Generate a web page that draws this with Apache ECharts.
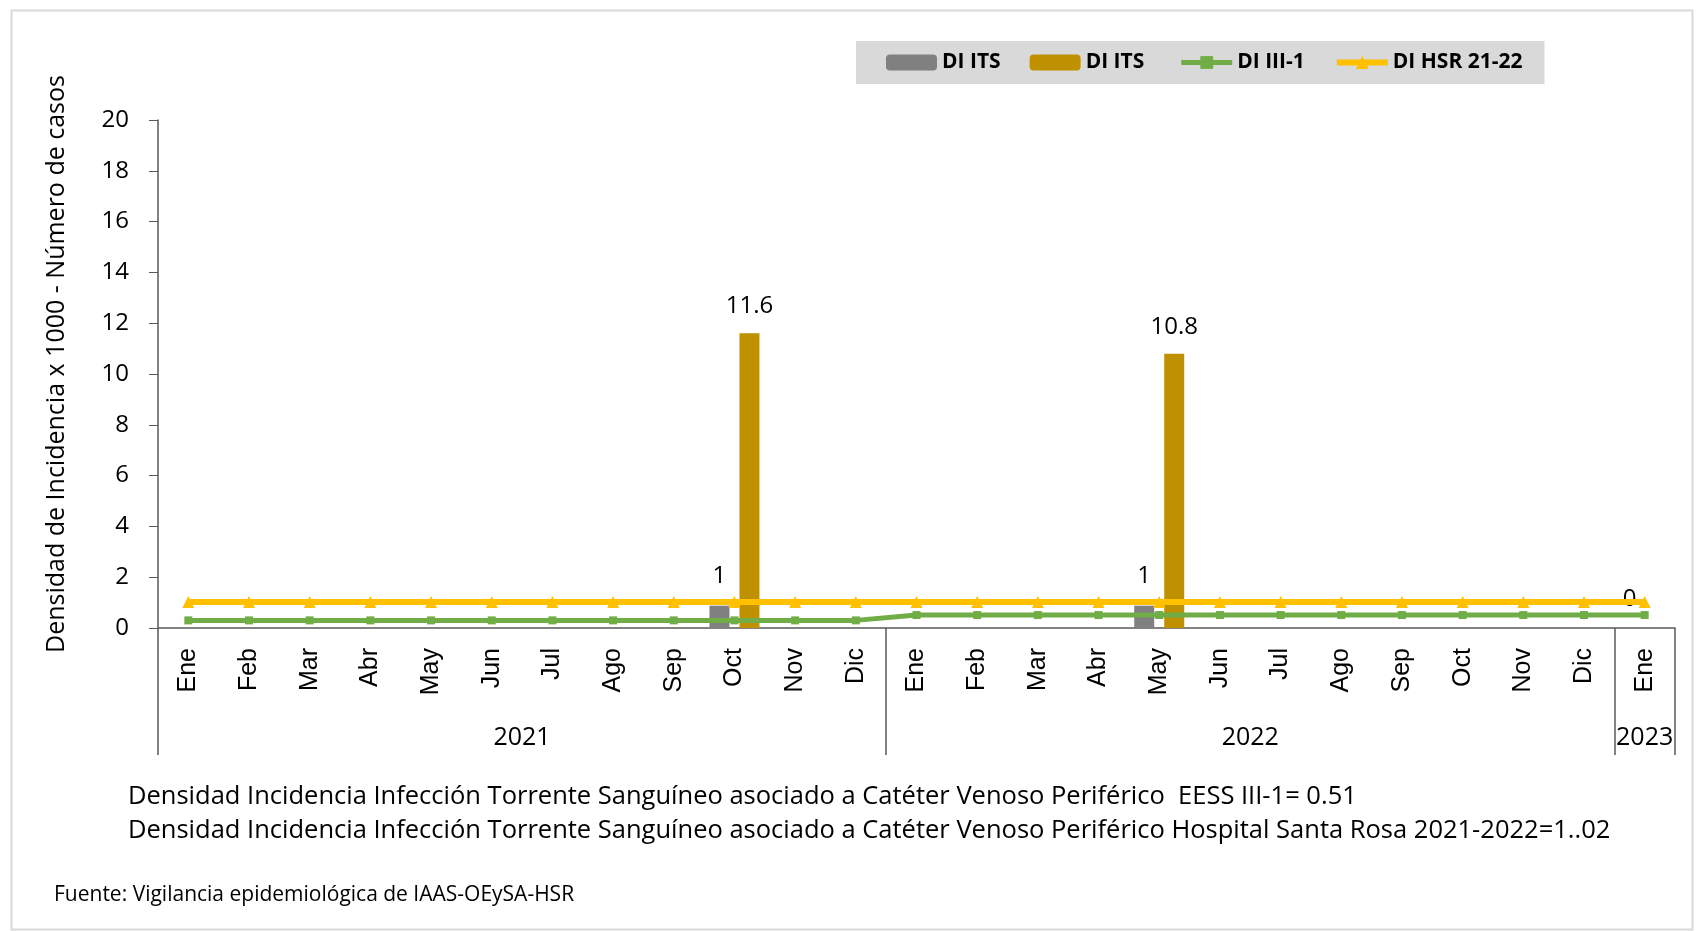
<!DOCTYPE html>
<html>
<head>
<meta charset="utf-8">
<script src="https://cdn.jsdelivr.net/npm/echarts@6/dist/echarts.min.js"></script>
<style>
  html, body { margin: 0; padding: 0; background: #fff; }
  #main { width: 1697px; height: 931px; }
</style>
</head>
<body>
<div id="main"></div>
<script>
var meses = ['Ene','Feb','Mar','Abr','May','Jun','Jul','Ago','Sep','Oct','Nov','Dic',
             'Ene','Feb','Mar','Abr','May','Jun','Jul','Ago','Sep','Oct','Nov','Dic',
             'Ene'];
var anios = ['2021', '2022', '2023'];
var aniosCentro = [6, 18, 24.5];
var aniosLimites = [0, 12, 24, 25];

// DI ITS (gris) - numero de casos
var itsCasos = [null,null,null,null,null,null,null,null,null,0.88,null,null,
                null,null,null,null,0.88,null,null,null,null,null,null,null,
                0];
// DI ITS (dorado) - densidad
var itsDensidad = [null,null,null,null,null,null,null,null,null,11.6,null,null,
                   null,null,null,null,10.8,null,null,null,null,null,null,null,
                   null];
var diIII1 = [0.3,0.3,0.3,0.3,0.3,0.3,0.3,0.3,0.3,0.3,0.3,0.3,
              0.51,0.51,0.51,0.51,0.51,0.51,0.51,0.51,0.51,0.51,0.51,0.51,
              0.51];
var diHSR = [1.02,1.02,1.02,1.02,1.02,1.02,1.02,1.02,1.02,1.02,1.02,1.02,
             1.02,1.02,1.02,1.02,1.02,1.02,1.02,1.02,1.02,1.02,1.02,1.02,
             1.02];

var fuente = '"Open Sans", sans-serif';
var myChart = echarts.init(document.getElementById('main'));

var option = {
  animation: false,
  textStyle: { fontFamily: fuente },
  legend: {
    left: 856,
    top: 41,
    padding: [11, 22, 11, 30],
    backgroundColor: '#d9d9d9',
    itemWidth: 51,
    itemHeight: 16,
    itemGap: 29,
    textStyle: { fontSize: 21, fontWeight: 'bold', color: '#000', fontFamily: fuente },
    data: [
      { name: 'DI ITS' },
      { name: 'DI ITS ' },
      { name: 'DI III-1', lineStyle: { width: 5 } },
      { name: 'DI HSR 21-22', lineStyle: { width: 6 } }
    ]
  },
  grid: { left: 158, right: 22, top: 120, bottom: 303 },
  xAxis: [{
    type: 'category',
    data: meses,
    axisLine: { lineStyle: { color: '#595959', width: 1.5 } },
    axisTick: { show: false },
    axisLabel: {
      rotate: 90, margin: 20, fontSize: 25, color: '#000',
      fontFamily: '"Liberation Sans", Arial, sans-serif', interval: 0
    }
  }, {
    type: 'value',
    min: 0,
    max: 25,
    position: 'bottom',
    offset: 127,
    axisLine: { show: false },
    splitLine: { show: false },
    axisTick: {
      show: true, inside: true, length: 127,
      customValues: aniosLimites,
      lineStyle: { color: '#595959', width: 1.5 }
    },
    axisLabel: {
      inside: true, margin: 5, fontSize: 25, color: '#000',
      customValues: aniosCentro,
      formatter: function (v) { return anios[aniosCentro.indexOf(v)]; }
    }
  }],
  yAxis: {
    type: 'value',
    min: 0,
    max: 20,
    interval: 2,
    name: 'Densidad de Incidencia x 1000 - Número de casos',
    nameLocation: 'middle',
    nameGap: 89,
    nameTextStyle: { fontSize: 25, color: '#000', padding: [0, 0, 0, 20] },
    axisLine: { show: true, lineStyle: { color: '#595959', width: 1.5 } },
    axisTick: { show: true, length: 9, lineStyle: { color: '#595959' } },
    axisLabel: { fontSize: 24, color: '#000', margin: 29 },
    splitLine: { show: false }
  },
  series: [{
    name: 'DI ITS',
    type: 'bar',
    data: itsCasos,
    barWidth: 20,
    barGap: '50%',
    itemStyle: { color: '#808080' },
    label: {
      show: true, position: 'top', distance: 17, fontSize: 24, color: '#000',
      formatter: function (p) { return Math.round(p.value); }
    }
  }, {
    name: 'DI ITS ',
    type: 'bar',
    data: itsDensidad,
    barWidth: 20,
    barGap: '50%',
    itemStyle: { color: '#BF9000' },
    label: { show: true, position: 'top', distance: 15, fontSize: 24, color: '#000' }
  }, {
    name: 'DI III-1',
    type: 'line',
    data: diIII1,
    symbol: 'rect',
    symbolSize: 8,
    lineStyle: { color: '#70AD47', width: 5 },
    itemStyle: { color: '#70AD47' }
  }, {
    name: 'DI HSR 21-22',
    type: 'line',
    data: diHSR,
    symbol: 'triangle',
    symbolSize: 12,
    lineStyle: { color: '#FFC000', width: 6 },
    itemStyle: { color: '#FFC000' }
  }],
  graphic: [{
    type: 'rect',
    left: 9, top: 8,
    shape: { width: 1681, height: 919 },
    style: { fill: 'none', stroke: '#d9d9d9', lineWidth: 2 },
    z: -1
  }, {
    type: 'text',
    left: 128, top: 784,
    style: {
      text: 'Densidad Incidencia Infección Torrente Sanguíneo asociado a Catéter Venoso Periférico  EESS III-1= 0.51',
      font: '25.5px "Open Sans", sans-serif', fill: '#000'
    }
  }, {
    type: 'text',
    left: 128, top: 818,
    style: {
      text: 'Densidad Incidencia Infección Torrente Sanguíneo asociado a Catéter Venoso Periférico Hospital Santa Rosa 2021-2022=1..02',
      font: '25.5px "Open Sans", sans-serif', fill: '#000'
    }
  }, {
    type: 'text',
    left: 54, top: 885,
    style: {
      text: 'Fuente: Vigilancia epidemiológica de IAAS-OEySA-HSR',
      font: '21px "Open Sans", sans-serif', fill: '#000'
    }
  }]
};

myChart.setOption(option);
</script>
</body>
</html>
